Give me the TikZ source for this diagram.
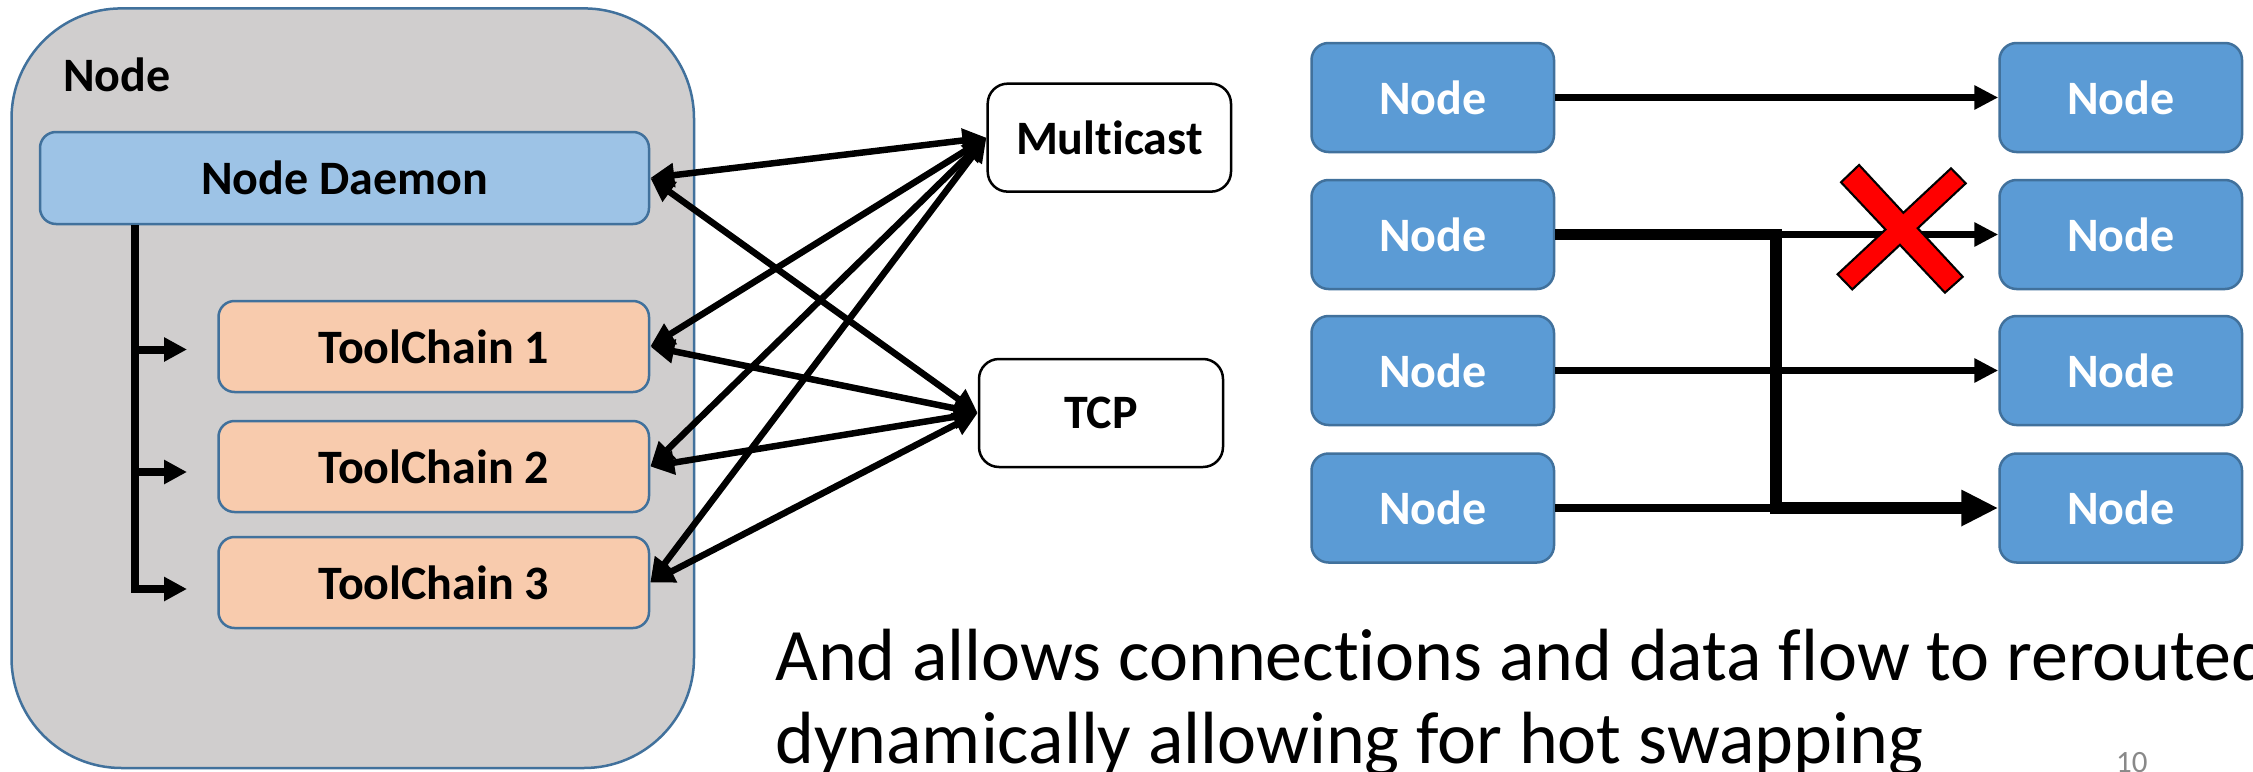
\documentclass[tikz,border=0pt]{standalone}
\usepackage{fontspec}
\setmainfont{Carlito}[Ligatures={NoCommon}]
\usetikzlibrary{arrows.meta}

\definecolor{hostgray}{HTML}{D0CECE}
\definecolor{edgeblue}{HTML}{41719C}
\definecolor{daemonblue}{HTML}{9DC3E6}
\definecolor{chainpeach}{HTML}{F8CBAD}
\definecolor{nodeblue}{HTML}{5B9BD5}
\definecolor{pagegray}{HTML}{898989}
\definecolor{xred}{HTML}{FF0000}

\begin{document}
\begin{tikzpicture}[x=1pt,y=-1pt,
  lbl/.style={font=\fontsize{48}{58}\selectfont\bfseries},
  hostbox/.style={draw=edgeblue, line width=2.5pt, fill=hostgray,
    rounded corners=110pt, inner sep=0pt,
    minimum width=682.5pt, minimum height=759.6pt},
  innerbox/.style={lbl, draw=edgeblue, line width=2.5pt,
    rounded corners=16pt, inner sep=0pt, minimum height=91pt},
  daemon/.style={innerbox, fill=daemonblue, minimum width=609pt, minimum height=92pt},
  chain/.style={innerbox, fill=chainpeach, minimum width=430.5pt},
  transport/.style={lbl, draw=black, line width=2.5pt, fill=white,
    rounded corners=20pt, inner sep=0pt, minimum width=244pt, minimum height=108pt},
  flownode/.style={lbl, text=white, draw=edgeblue, line width=2.5pt, fill=nodeblue,
    rounded corners=17pt, inner sep=0pt, minimum width=242.5pt, minimum height=109pt},
  link/.style={line width=6.5pt, >={Triangle[length=24pt,width=23pt]}, <->},
  branch/.style={line width=8pt, >={Triangle[length=23pt,width=23pt]}},
  thinflow/.style={line width=7.5pt, >={Triangle[length=24pt,width=23pt]}},
  thickflow/.style={line width=11.5pt, >={Triangle[length=37pt,width=34pt]}},
  caption/.style={font=\fontsize{74}{83}\selectfont, inner sep=0pt, anchor=base west},
]
\path[use as bounding box, fill=white] (0,0) rectangle (2253,771);

% host node with its daemon and toolchains
\node[hostbox] (host) at (352.75,388.2) {};
\node[lbl, anchor=base west, inner sep=0pt] (hostlabel) at (63,91) {Node};
\node[daemon] (ND) at (344.5,178) {Node Daemon};
\node[chain] (TC1) at (433.75,346.5) {ToolChain 1};
\node[chain] (TC2) at (433.75,466.5) {ToolChain 2};
\node[chain] (TC3) at (433.75,582.5) {ToolChain 3};

% daemon spawning the toolchains
\coordinate (trunk) at (134.5,0);
\coordinate (t1) at (187,349.5);
\coordinate (t2) at (187,472);
\coordinate (t3) at (187,589);
\draw[branch,->] (ND.south -| trunk) -- (t3 -| trunk) -- (t3);
\draw[branch,->] (t1 -| trunk) -- (t1);
\draw[branch,->] (t2 -| trunk) -- (t2);

% transports
\node[transport, minimum width=243.3pt] (MC) at (1109.35,137.65) {Multicast};
\node[transport] (TCP) at (1101,413) {TCP};

\foreach \src in {ND,TC1,TC2,TC3}{
  \draw[link] (\src.east) -- (MC.west);
  \draw[link] (\src.east) -- (TCP.west);
}

% rerouting example
\foreach \i/\y in {1/97.5,2/234.5,3/370.5,4/508}{
  \node[flownode] (L\i) at (1432.75,\y) {Node};
  \node[flownode] (R\i) at (2120.75,\y) {Node};
}
\coordinate (bus) at (1776,0);
\draw[thinflow,->] (L1.east) -- (R1.west);
\draw[thinflow,->] (L2.east -| bus) -- (R2.west);
\draw[thinflow,->] (L3.east) -- (R3.west);
\draw[thinflow] (L4.east) -- (L4.east -| bus);
\draw[thickflow,->] (L2.east) -- (L2.east -| bus) -- (L4.east -| bus) -- (R4.west);

% broken link marker
\begin{scope}[line join=miter]
  \draw[black, line width=4.5pt]
    (1859,166.7) -- (1961,276.7) -- (1945,291) -- (1842.7,182.3) -- cycle
    (1951,170) -- (1964,183.3) -- (1852.3,287.7) -- (1839.3,274.3) -- cycle;
  \fill[xred]
    (1859,166.7) -- (1961,276.7) -- (1945,291) -- (1842.7,182.3) -- cycle;
  \fill[xred]
    (1951,170) -- (1964,183.3) -- (1852.3,287.7) -- (1839.3,274.3) -- cycle;
\end{scope}

% caption and page number
\node[caption] (cap1) at (775,680) {And allows connections and data flow to rerouted};
\node[caption] (cap2) at (775,763) {dynamically allowing for hot swapping};
\node[anchor=base west, inner sep=0pt, font=\fontsize{31}{36}\selectfont, text=pagegray]
  (pageno) at (2116,772) {10};
\end{tikzpicture}
\end{document}
